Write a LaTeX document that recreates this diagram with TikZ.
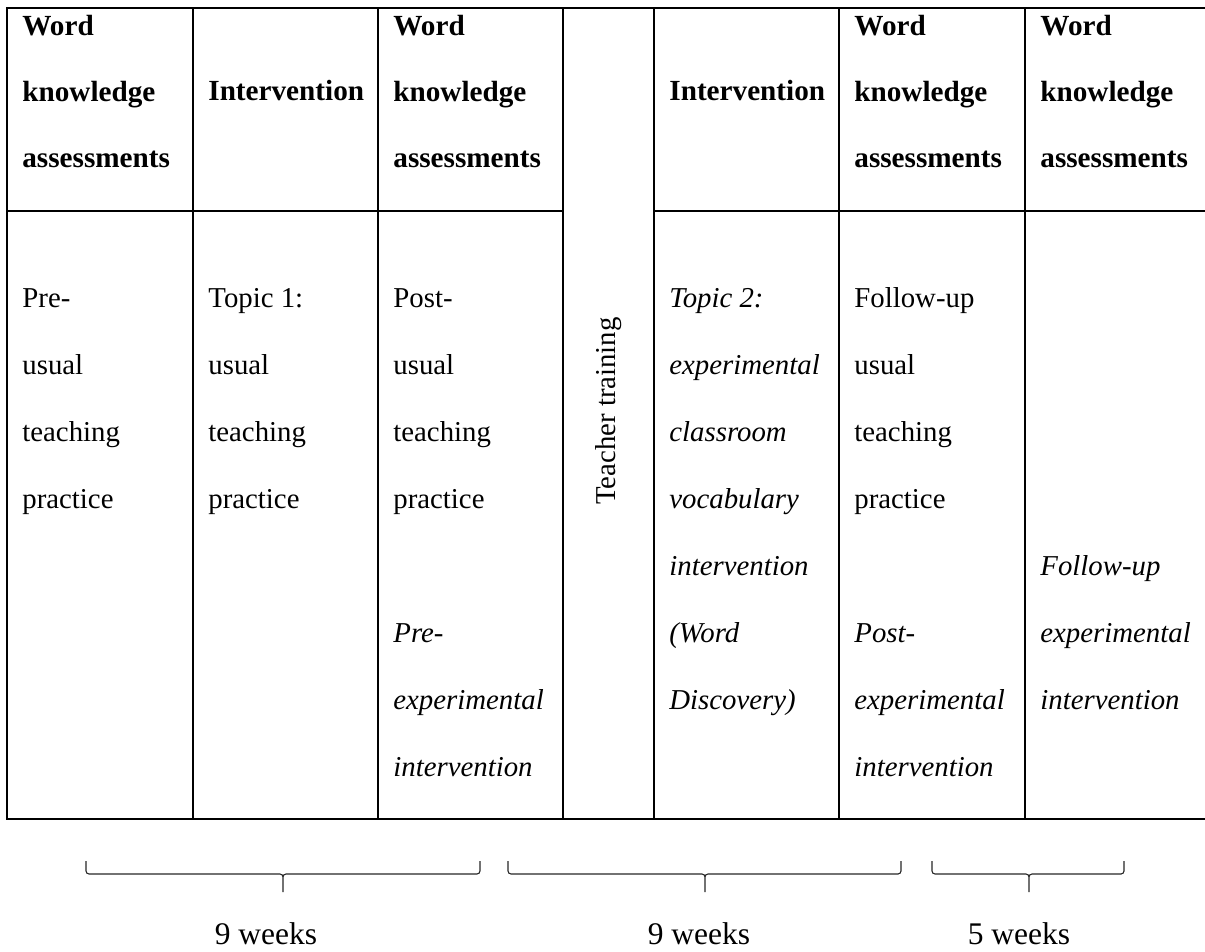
\documentclass[tikz,border=0pt]{standalone}
\usepackage{fontspec}
\setmainfont{Liberation Serif}
\usetikzlibrary{positioning, calc}

\begin{document}
\begin{tikzpicture}[x=0.5pt,y=-0.5pt,
    grid line/.style={line width=1pt},
    brace line/.style={line width=0.55pt, draw=black!85, rounded corners=1.5pt},
    cell/.style={anchor=base west, align=left, inner sep=0pt, font=\fontsize{14.4}{33.5}\selectfont},
    head/.style={anchor=base west, align=left, inner sep=0pt, font=\fontsize{14.6}{33}\selectfont\bfseries},
    weeks/.style={anchor=base, inner sep=0pt, font=\fontsize{15.75}{18}\selectfont}]
  \useasboundingbox (0,0) rectangle (1205,952);

  % table frame
  \draw[grid line] (1205,8) -- (7,8) -- (7,819) -- (1205,819);
  \draw[grid line] (7,211) -- (563,211) (654,211) -- (1205,211);
  \foreach \x in {193,378,563,654,839,1025}
    \draw[grid line] (\x,8) -- (\x,819);

  % header row (nodes sit on the baseline of their last line)
  \node[head] (h1) at (22,168) {Word\\knowledge\\assessments};
  \node[head] (h2) at (208,101) {Intervention};
  \node[head] (h3) at (393,168) {Word\\knowledge\\assessments};
  \node[head] (h5) at (669,101) {Intervention};
  \node[head] (h6) at (854,168) {Word\\knowledge\\assessments};
  \node[head] (h7) at (1040,168) {Word\\knowledge\\assessments};

  % body row
  \node[cell] (pre) at (22,508) {Pre-\\usual\\teaching\\practice};
  \node[cell] (topic1) at (208,508) {Topic 1:\\usual\\teaching\\practice};
  \node[cell] (post) at (393,776) {Post-\\usual\\teaching\\practice\\[33.5pt]
    \textit{Pre-}\\\textit{experimental}\\\textit{intervention}};
  \node[rotate=90, inner sep=0pt, font=\fontsize{14.4}{17}\selectfont] (train) at (608.5,411) {Teacher training};
  \node[cell, font=\fontsize{14.4}{33.5}\selectfont\itshape] (topic2) at (669,709)
    {Topic 2:\\experimental\\classroom\\vocabulary\\intervention\\(Word\\Discovery)};
  \node[cell] (follow) at (854,776) {Follow-up\\usual\\teaching\\practice\\[33.5pt]
    \textit{Post-}\\\textit{experimental}\\\textit{intervention}};
  \node[cell, font=\fontsize{14.4}{33.5}\selectfont\itshape] (followexp) at (1040,709)
    {Follow-up\\experimental\\intervention};

  % week braces
  \foreach \n/\l/\r/\t in {a/86/480/283, b/508/901/705, c/932/1124/1029} {
    \coordinate (\n l) at (\l,861);
    \coordinate (\n r) at (\r,861);
    \coordinate (\n m) at (\t,874);
    \coordinate (\n t) at (\t,892);
    \draw[brace line] (\n l) |- (\n m) -- (\n t) (\n t) -- (\n m) -| (\n r);
  }
  \node[weeks] (wka) at (266,944) {9 weeks};
  \node[weeks] (wkb) at (699,944) {9 weeks};
  \node[weeks] (wkc) at (1019,944) {5 weeks};
\end{tikzpicture}
\end{document}
